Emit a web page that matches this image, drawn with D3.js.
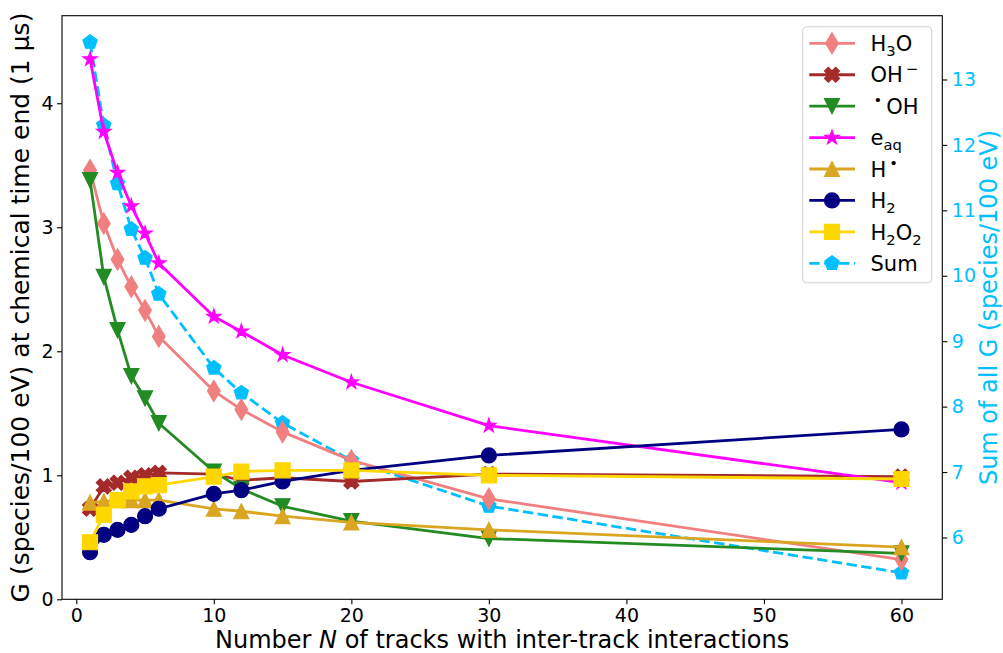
<!DOCTYPE html>
<html>
<head>
<meta charset="utf-8">
<script src="https://cdn.jsdelivr.net/npm/d3@7"></script>
<style>
  html, body { margin: 0; padding: 0; background: #fff; }
  svg { display: block; font-family: "DejaVu Sans", sans-serif; }
</style>
</head>
<body>
<svg id="chart" width="1003" height="653"></svg>
<script>
// Number of tracks with inter-track interactions
const tracks = [1, 2, 3, 4, 5, 6, 10, 12, 15, 20, 30, 60];

// G values (species/100 eV) at the end of the chemical stage (1 µs)
const gH3O  = [3.46, 3.03, 2.74, 2.52, 2.33, 2.12, 1.68, 1.53, 1.35, 1.12, 0.81, 0.32];
const gOHm  = [0.73, 0.91, 0.94, 0.98, 1.00, 1.02, 1.01, 0.96, 0.98, 0.95, 1.01, 0.99];
const gOH   = [3.38, 2.60, 2.17, 1.80, 1.62, 1.42, 1.03, 0.89, 0.75, 0.63, 0.49, 0.37];
const gEaq  = [4.355, 3.77, 3.44, 3.17, 2.95, 2.71, 2.28, 2.16, 1.97, 1.75, 1.40, 0.94];
const gH    = [0.78, 0.79, 0.80, 0.80, 0.80, 0.80, 0.73, 0.71, 0.67, 0.62, 0.56, 0.42];
const gH2   = [0.38, 0.52, 0.56, 0.60, 0.67, 0.73, 0.85, 0.88, 0.95, 1.04, 1.16, 1.37];
const gH2O2 = [0.46, 0.68, 0.80, 0.87, 0.91, 0.92, 0.99, 1.03, 1.04, 1.04, 1.00, 0.97];
// Sum of all G values (right axis)
const gSum  = [13.57, 12.30, 11.41, 10.71, 10.27, 9.72, 8.59, 8.21, 7.75, 7.18, 6.48, 5.46];

// Tick labels
const xTicks  = [0, 10, 20, 30, 40, 50, 60];
const yTicks  = [0, 1, 2, 3, 4];
const y2Ticks = [6, 7, 8, 9, 10, 11, 12, 13];

const svg = d3.select("#chart");
const plot = { left: 62, right: 942.3, top: 15.7, bottom: 599.3 };

const x  = d3.scaleLinear().domain([-1.04, 62.97]).range([plot.left, plot.right]);
const y  = d3.scaleLinear().domain([0, 4.706]).range([plot.bottom, plot.top]);
const y2 = d3.scaleLinear().domain([5.055, 13.975]).range([plot.bottom, plot.top]);

const MS = 15; // marker size in px

// Marker outlines centred on (0,0)
function markerPath(kind) {
  const r = MS / 2;
  const poly = pts => "M" + pts.map(p => p[0].toFixed(2) + "," + p[1].toFixed(2)).join("L") + "Z";
  switch (kind) {
    case "thin_diamond": {
      const h = MS * Math.SQRT2 / 2, w = h * 0.6;
      return poly([[0, -h], [w, 0], [0, h], [-w, 0]]);
    }
    case "x_filled": {
      const L = 7.9, t = 2.7, c = Math.SQRT1_2;
      const plus = [[t, -L], [t, -t], [L, -t], [L, t], [t, t], [t, L], [-t, L], [-t, t], [-L, t], [-L, -t], [-t, -t], [-t, -L]];
      return poly(plus.map(([a, b]) => [c * (a - b), c * (a + b)]));
    }
    case "triangle_down": return poly([[0, r], [-r, -r], [r, -r]]);
    case "triangle_up":   return poly([[0, -r], [-r, r], [r, r]]);
    case "star": {
      const pts = [];
      for (let i = 0; i < 10; i++) {
        const rad = i % 2 === 0 ? r : r * 0.381966;
        const a = -Math.PI / 2 + i * Math.PI / 5;
        pts.push([rad * Math.cos(a), rad * Math.sin(a)]);
      }
      return poly(pts);
    }
    case "circle": return d3.arc()({ innerRadius: 0, outerRadius: r, startAngle: 0, endAngle: 2 * Math.PI });
    case "square": return poly([[-r, -r], [r, -r], [r, r], [-r, r]]);
    case "pentagon": {
      const pts = [];
      for (let i = 0; i < 5; i++) {
        const a = -Math.PI / 2 + i * 2 * Math.PI / 5;
        pts.push([r * Math.cos(a), r * Math.sin(a)]);
      }
      return poly(pts);
    }
  }
}

// Label pieces: plain text, subscript or superscript
const seriesList = [
  { values: gH3O,  color: "#F08080", marker: "thin_diamond",  scale: y,
    label: [{ t: "H" }, { t: "3", sub: 1 }, { t: "O" }] },
  { values: gOHm,  color: "#A52A2A", marker: "x_filled",      scale: y,
    label: [{ t: "OH" }, { t: "\u2009\u2212", sup: 1 }] },
  { values: gOH,   color: "#228B22", marker: "triangle_down", scale: y,
    label: [{ t: "\u2009\u2022", sup: 1 }, { t: "\u2009OH" }] },
  { values: gEaq,  color: "#FF00FF", marker: "star",          scale: y,
    label: [{ t: "e" }, { t: "aq", sub: 1 }] },
  { values: gH,    color: "#DAA520", marker: "triangle_up",   scale: y,
    label: [{ t: "H" }, { t: "\u2009\u2022", sup: 1 }] },
  { values: gH2,   color: "#000080", marker: "circle",        scale: y,
    label: [{ t: "H" }, { t: "2", sub: 1 }] },
  { values: gH2O2, color: "#FFD700", marker: "square",        scale: y,
    label: [{ t: "H" }, { t: "2", sub: 1 }, { t: "O" }, { t: "2", sub: 1 }] },
  { values: gSum,  color: "#00BFFF", marker: "pentagon",      scale: y2, dashed: true,
    label: [{ t: "Sum" }] }
];

const LW = 2.8;
const dash = (LW * 3.7).toFixed(1) + "," + (LW * 1.6).toFixed(1);

svg.append("defs").append("clipPath").attr("id", "plotClip")
  .append("rect").attr("x", plot.left).attr("y", plot.top)
  .attr("width", plot.right - plot.left).attr("height", plot.bottom - plot.top);

const marks = svg.append("g").attr("clip-path", "url(#plotClip)");

// The sum curve lies underneath the individual species
const drawOrder = [seriesList[7]].concat(seriesList.slice(0, 7));
drawOrder.forEach(s => {
  const pts = tracks.map((n, i) => [n, s.values[i]]);
  const line = d3.line().x(d => x(d[0])).y(d => s.scale(d[1]));
  const g = marks.append("g");
  g.append("path").datum(pts)
    .attr("d", line)
    .attr("fill", "none")
    .attr("stroke", s.color)
    .attr("stroke-width", LW)
    .attr("stroke-linejoin", "round")
    .attr("stroke-dasharray", s.dashed ? dash : null);
  const mp = markerPath(s.marker);
  g.selectAll("path.mk").data(pts).join("path")
    .attr("class", "mk")
    .attr("d", mp)
    .attr("transform", d => `translate(${x(d[0])},${s.scale(d[1])})`)
    .attr("fill", s.color)
    .attr("stroke", s.color)
    .attr("stroke-width", 1.2)
    .attr("stroke-linejoin", "miter");
});

// Axes
const tickFont = 19;
function styleAxis(g, color) {
  g.select(".domain").remove();
  g.selectAll(".tick line").attr("stroke", "#000").attr("stroke-width", 1.1);
  g.selectAll(".tick text").attr("fill", color)
    .style("font-size", tickFont + "px").style("font-family", "DejaVu Sans");
}

svg.append("g").attr("transform", `translate(0,${plot.bottom})`)
  .call(d3.axisBottom(x).tickValues(xTicks).tickFormat(d3.format("d")).tickSize(5).tickPadding(4))
  .call(g => styleAxis(g, "#000"));

svg.append("g").attr("transform", `translate(${plot.left},0)`)
  .call(d3.axisLeft(y).tickValues(yTicks).tickFormat(d3.format("d")).tickSize(5).tickPadding(3.5))
  .call(g => styleAxis(g, "#000"));

svg.append("g").attr("transform", `translate(${plot.right},0)`)
  .call(d3.axisRight(y2).tickValues(y2Ticks).tickFormat(d3.format("d")).tickSize(5).tickPadding(4.5))
  .call(g => styleAxis(g, "#00BFFF"));

// Frame
svg.append("rect")
  .attr("x", plot.left).attr("y", plot.top)
  .attr("width", plot.right - plot.left).attr("height", plot.bottom - plot.top)
  .attr("fill", "none").attr("stroke", "#000").attr("stroke-width", 1.1);

// Axis titles
const labelFont = 24;
const xl = svg.append("text")
  .attr("x", (plot.left + plot.right) / 2).attr("y", 648)
  .attr("text-anchor", "middle").style("font-size", labelFont + "px");
xl.append("tspan").text("Number ");
xl.append("tspan").attr("font-style", "italic").text("N");
xl.append("tspan").text(" of tracks with inter-track interactions");

svg.append("text")
  .attr("transform", `translate(29,${(plot.top + plot.bottom) / 2}) rotate(-90)`)
  .attr("text-anchor", "middle").style("font-size", "25px")
  .text("G (species/100 eV) at chemical time end (1 \u03bcs)");

svg.append("text")
  .attr("transform", `translate(997,${(plot.top + plot.bottom) / 2}) rotate(-90)`)
  .attr("text-anchor", "middle").style("font-size", "24px")
  .attr("fill", "#00BFFF")
  .text("Sum of all G (species/100 eV)");

// Legend
const legFont = 21;
const leg = svg.append("g");
leg.append("rect")
  .attr("x", 802.7).attr("y", 26.7).attr("width", 129).attr("height", 256)
  .attr("rx", 4).attr("ry", 4)
  .attr("fill", "#fff").attr("fill-opacity", 0.8)
  .attr("stroke", "#d4d4d4").attr("stroke-width", 1.1);

const rowY0 = 43.3, rowStep = 31.43;
seriesList.forEach((s, i) => {
  const cy = rowY0 + i * rowStep;
  leg.append("line")
    .attr("x1", 809.3).attr("x2", 855).attr("y1", cy).attr("y2", cy)
    .attr("stroke", s.color).attr("stroke-width", LW)
    .attr("stroke-dasharray", s.dashed ? dash : null);
  leg.append("path")
    .attr("d", markerPath(s.marker))
    .attr("transform", `translate(832,${cy})`)
    .attr("fill", s.color).attr("stroke", s.color).attr("stroke-width", 1.2);
  const t = leg.append("text")
    .attr("x", 870.5).attr("y", cy + 7.7)
    .style("font-size", legFont + "px");
  let shift = 0;
  s.label.forEach(p => {
    const target = p.sub ? 5 : p.sup ? -8.5 : 0;
    const ts = t.append("tspan").text(p.t);
    if (target !== shift) { ts.attr("dy", target - shift); shift = target; }
    if (p.sub || p.sup) ts.style("font-size", (legFont * 0.7) + "px");
  });
});
</script>
</body>
</html>
